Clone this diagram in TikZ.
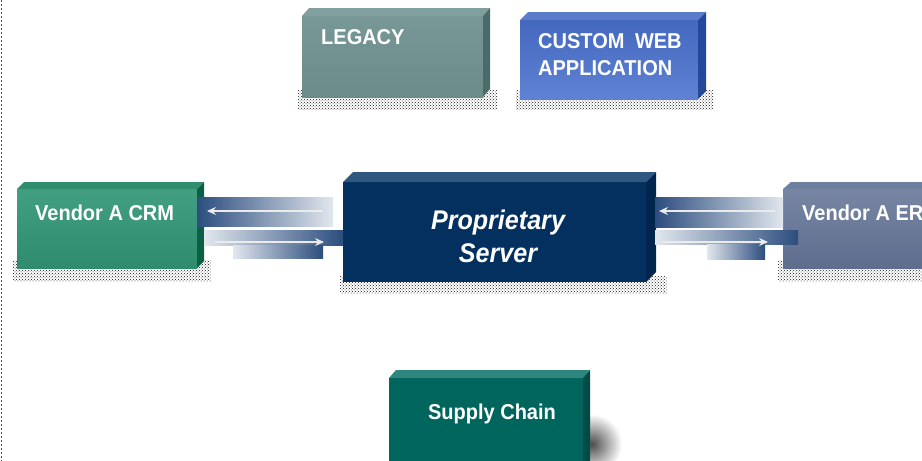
\documentclass[tikz,border=0pt]{standalone}
\usepackage{fontspec}
\setmainfont{Liberation Sans}
\newfontfamily\boxfont[FakeStretch=0.93]{Liberation Sans}
\usetikzlibrary{arrows.meta,patterns,positioning}

\definecolor{legacyFront}{HTML}{779896}
\definecolor{legacyLow}{HTML}{6A8B89}
\definecolor{legacyTop}{HTML}{7FA09E}
\definecolor{legacySide}{HTML}{4B6B69}
\definecolor{webFront}{HTML}{4468BE}
\definecolor{webLow}{HTML}{5F82D4}
\definecolor{webTop}{HTML}{5A7CCB}
\definecolor{webSide}{HTML}{23489C}
\definecolor{crmFront}{HTML}{429F82}
\definecolor{crmLow}{HTML}{2F8B6D}
\definecolor{crmTop}{HTML}{2F8C6D}
\definecolor{crmSide}{HTML}{0A5F45}
\definecolor{erpFront}{HTML}{7886A4}
\definecolor{erpLow}{HTML}{5E6D8D}
\definecolor{erpTop}{HTML}{6F7FA0}
\definecolor{srvFront}{HTML}{03305F}
\definecolor{srvTop}{HTML}{30577F}
\definecolor{srvSide}{HTML}{01264D}
\definecolor{supFront}{HTML}{00655D}
\definecolor{supTop}{HTML}{2F8680}
\definecolor{supSide}{HTML}{004B45}
\definecolor{arrowDark}{HTML}{2C4D7E}
\definecolor{arrowLight}{HTML}{E2E7EE}

\begin{document}
\begin{tikzpicture}[x=1pt, y=-1pt,
	face/.style={inner sep=0pt, outer sep=0pt, anchor=north west},
	lbl/.style={text=white, inner sep=0pt, font=\boxfont\bfseries\fontsize{21.5}{27}\selectfont},
	shadowdots/.style={pattern=crosshatch dots, pattern color=black!90},
	flow/.style={white!92!black, line width=1.2pt, -{Stealth[length=9pt, width=8pt, inset=3pt]}}]
	
	\useasboundingbox (0,0) rectangle (922,461);
	\clip (0,0) rectangle (922,461);
	
	\draw[black!70, line width=1.5pt, dash pattern=on 1.5pt off 2.5pt] (1.5,0) -- (1.5,461); % left rule
	
	% shadows
	\fill[shadowdots] (298,90) rectangle (497,109);
	\fill[shadowdots] (516,90) rectangle (713,109);
	\fill[shadowdots] (13,260) rectangle (211,281);
	\fill[shadowdots] (340,276) rectangle (667,293);
	\fill[shadowdots] (778,260) rectangle (930,281);
	\shade[inner color=black!70, outer color=white] (592,444) circle (30);
	
	% front faces
	\node[face, minimum width=181, minimum height=81, top color=legacyFront, bottom color=legacyLow] (legacy) at (302,16) {};
	\node[face, minimum width=178, minimum height=79, top color=webFront, bottom color=webLow] (web) at (520,20) {};
	\node[face, minimum width=180, minimum height=79, top color=crmFront, bottom color=crmLow] (crm) at (17,189) {};
	\node[face, minimum width=303, minimum height=100, fill=srvFront] (srv) at (343,182) {};
	\node[face, minimum width=150, minimum height=79, top color=erpFront, bottom color=erpLow] (erp) at (783,189) {};
	\node[face, minimum width=194, minimum height=92, fill=supFront] (sup) at (389,378) {};
	
	% top and side faces
	\fill[legacyTop] (legacy.north west) -- ++(7,-8) -- ([shift={(7,-8)}]legacy.north east) -- (legacy.north east) -- cycle;
	\fill[legacySide] (legacy.north east) -- ++(7,-8) -- ([shift={(7,-8)}]legacy.south east) -- (legacy.south east) -- cycle;
	\fill[webTop] (web.north west) -- ++(8,-8) -- ([shift={(8,-8)}]web.north east) -- (web.north east) -- cycle;
	\fill[webSide] (web.north east) -- ++(8,-8) -- ([shift={(8,-8)}]web.south east) -- (web.south east) -- cycle;
	\fill[crmTop] (crm.north west) -- ++(7,-7) -- ([shift={(7,-7)}]crm.north east) -- (crm.north east) -- cycle;
	\fill[crmSide] (crm.north east) -- ++(7,-7) -- ([shift={(7,-7)}]crm.south east) -- (crm.south east) -- cycle;
	\fill[srvTop] (srv.north west) -- ++(10,-10) -- ([shift={(10,-10)}]srv.north east) -- (srv.north east) -- cycle;
	\fill[srvSide] (srv.north east) -- ++(10,-10) -- ([shift={(10,-10)}]srv.south east) -- (srv.south east) -- cycle;
	\fill[erpTop] (erp.north west) -- ++(8,-7) -- ([shift={(8,-7)}]erp.north east) -- (erp.north east) -- cycle;
	\fill[supTop] (sup.north west) -- ++(7,-8) -- ([shift={(7,-8)}]sup.north east) -- (sup.north east) -- cycle;
	\fill[supSide] (sup.north east) -- ++(7,-8) -- ([shift={(7,-8)}]sup.south east) -- (sup.south east) -- cycle;
	
	% flow strips
	\shade[left color=arrowDark, right color=arrowLight] (197,197) rectangle (333,226);
	\shade[left color=arrowLight, right color=arrowDark] (204,230) rectangle (343,245);
	\shade[left color=arrowLight, right color=arrowDark] (233,245) rectangle (323,258);
	\shade[left color=arrowDark, right color=arrowLight] (655,197) rectangle (783,227);
	\shade[left color=arrowLight, right color=arrowDark] (655,230) rectangle (798,244);
	\shade[left color=arrowLight, right color=arrowDark] (707,244) rectangle (765,259);
	
	\coordinate (crmIn) at (207,211);
	\coordinate (srvOutL) at (323,211);
	\coordinate (crmOut) at (215,242);
	\coordinate (srvInL) at (324,242);
	\coordinate (erpOut) at (775,211);
	\coordinate (srvInR) at (659,211);
	\coordinate (srvOutR) at (662,242);
	\coordinate (erpIn) at (768,242);
	
	\draw[flow] (srvOutL) -- (crmIn);
	\draw[flow] (crmOut) -- (srvInL);
	\draw[flow] (erpOut) -- (srvInR);
	\draw[flow] (srvOutR) -- (erpIn);
	
	% labels
	\node[lbl, anchor=west] (legacyText) at (321,37) {LEGACY};
	\node[lbl, anchor=west, align=left] (webText) at (538,55) {CUSTOM\hspace{5pt} WEB\\APPLICATION};
	\node[lbl, anchor=west] (crmText) at (35,213) {Vendor A CRM};
	\node[lbl, anchor=west] (erpText) at (802,213) {Vendor A ER};
	\node[lbl, align=center, font=\boxfont\bfseries\itshape\fontsize{27}{33}\selectfont] (srvText) at (498,236.5) {Proprietary\\Server};
	\node[lbl] (supText) at (492,414) {Supply Chain};
\end{tikzpicture}
\end{document}
